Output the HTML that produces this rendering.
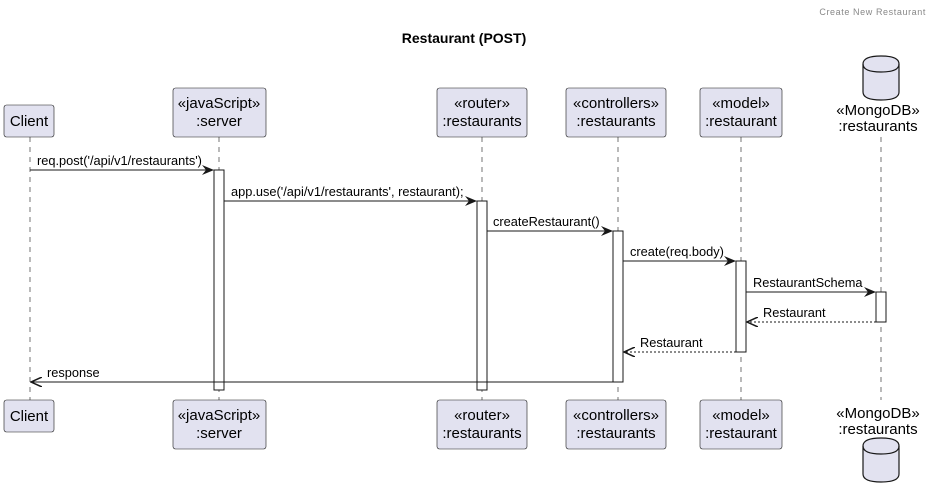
<!DOCTYPE html>
<html><head><meta charset="utf-8"><style>
html,body{margin:0;padding:0;background:#fff;}
svg{display:block;font-family:"Liberation Sans",sans-serif;}
</style></head><body>
<svg width="934" height="497" viewBox="0 0 934 497" xmlns="http://www.w3.org/2000/svg">
<defs>
<marker id="ah" viewBox="0 0 12 10" refX="11" refY="5" markerWidth="12" markerHeight="10" markerUnits="userSpaceOnUse" orient="auto">
<path d="M0,0 L12,5 L0,10 L4,5 Z" fill="#181818"/>
</marker>
<marker id="oa" viewBox="0 0 12 10" refX="11" refY="5" markerWidth="12" markerHeight="10" markerUnits="userSpaceOnUse" orient="auto">
<path d="M0,0 L11,5 L0,10" fill="none" stroke="#181818" stroke-width="1.5"/>
</marker>
</defs>
<text x="926" y="15" text-anchor="end" font-size="9" fill="#888" letter-spacing="0.6">Create New Restaurant</text>
<text x="464" y="43" text-anchor="middle" font-size="14" font-weight="bold" fill="#000">Restaurant (POST)</text>

<g stroke="#181818" stroke-width="0.6" stroke-dasharray="5,5">
<line x1="30" y1="137" x2="30" y2="400"/>
<line x1="219" y1="137" x2="219" y2="400"/>
<line x1="482" y1="137" x2="482" y2="400"/>
<line x1="618" y1="137" x2="618" y2="400"/>
<line x1="741" y1="137" x2="741" y2="400"/>
<line x1="881" y1="137" x2="881" y2="400"/>
</g>

<g fill="#E2E2F0" stroke="#181818" stroke-width="0.6">
<rect x="4" y="105" width="50" height="32" rx="2.5"/>
<rect x="173" y="88" width="93" height="49" rx="2.5"/>
<rect x="437" y="88" width="90" height="49" rx="2.5"/>
<rect x="566" y="88" width="100" height="49" rx="2.5"/>
<rect x="700" y="88" width="82" height="49" rx="2.5"/>
<rect x="4" y="400" width="50" height="32" rx="2.5"/>
<rect x="173" y="400" width="93" height="49" rx="2.5"/>
<rect x="437" y="400" width="90" height="49" rx="2.5"/>
<rect x="566" y="400" width="100" height="49" rx="2.5"/>
<rect x="700" y="400" width="82" height="49" rx="2.5"/>
</g>
<g fill="#E2E2F0" stroke="#181818" stroke-width="1.2">
<path d="M863,64 Q863,56 881,56 Q899,56 899,64 L899,92 Q899,100 881,100 Q863,100 863,92 Z"/>
<path d="M863,64 Q863,72 881,72 Q899,72 899,64" fill="none"/>
<path d="M863,446 Q863,438 881,438 Q899,438 899,446 L899,474 Q899,482 881,482 Q863,482 863,474 Z"/>
<path d="M863,446 Q863,454 881,454 Q899,454 899,446" fill="none"/>
</g>

<g font-size="15" fill="#000" text-anchor="middle">
<text x="29" y="126">Client</text>
<text x="219" y="108">«javaScript»</text><text x="219" y="126">:server</text>
<text x="482" y="108">«router»</text><text x="482" y="126">:restaurants</text>
<text x="616" y="108">«controllers»</text><text x="616" y="126">:restaurants</text>
<text x="741" y="108">«model»</text><text x="741" y="126">:restaurant</text>
<text x="878" y="115">«MongoDB»</text><text x="878" y="131">:restaurants</text>
<text x="29" y="421">Client</text>
<text x="219" y="420">«javaScript»</text><text x="219" y="438">:server</text>
<text x="482" y="420">«router»</text><text x="482" y="438">:restaurants</text>
<text x="616" y="420">«controllers»</text><text x="616" y="438">:restaurants</text>
<text x="741" y="420">«model»</text><text x="741" y="438">:restaurant</text>
<text x="878" y="418">«MongoDB»</text><text x="878" y="434">:restaurants</text>
</g>

<g fill="#fff" stroke="#181818" stroke-width="1">
<rect x="214" y="170" width="10" height="220"/>
<rect x="477" y="201" width="10" height="189"/>
<rect x="613" y="231" width="10" height="151"/>
<rect x="736" y="261" width="10" height="91"/>
<rect x="876" y="292" width="10" height="30"/>
</g>

<g stroke="#181818" stroke-width="1">
<line x1="30" y1="170" x2="213" y2="170" marker-end="url(#ah)"/>
<line x1="224" y1="201" x2="476" y2="201" marker-end="url(#ah)"/>
<line x1="487" y1="231" x2="612" y2="231" marker-end="url(#ah)"/>
<line x1="623" y1="261" x2="735" y2="261" marker-end="url(#ah)"/>
<line x1="746" y1="292" x2="875" y2="292" marker-end="url(#ah)"/>
<line x1="876" y1="322" x2="747" y2="322" stroke-dasharray="2,2" marker-end="url(#oa)"/>
<line x1="736" y1="352" x2="624" y2="352" stroke-dasharray="2,2" marker-end="url(#oa)"/>
<line x1="613" y1="382" x2="31" y2="382" marker-end="url(#oa)"/>
</g>

<g font-size="12.8" fill="#000">
<text x="37" y="165">req.post('/api/v1/restaurants')</text>
<text x="231" y="196">app.use('/api/v1/restaurants', restaurant);</text>
<text x="493" y="226">createRestaurant()</text>
<text x="630" y="256">create(req.body)</text>
<text x="753" y="287">RestaurantSchema</text>
<text x="763" y="317">Restaurant</text>
<text x="640" y="347">Restaurant</text>
<text x="47" y="377">response</text>
</g>
</svg>
</body></html>
